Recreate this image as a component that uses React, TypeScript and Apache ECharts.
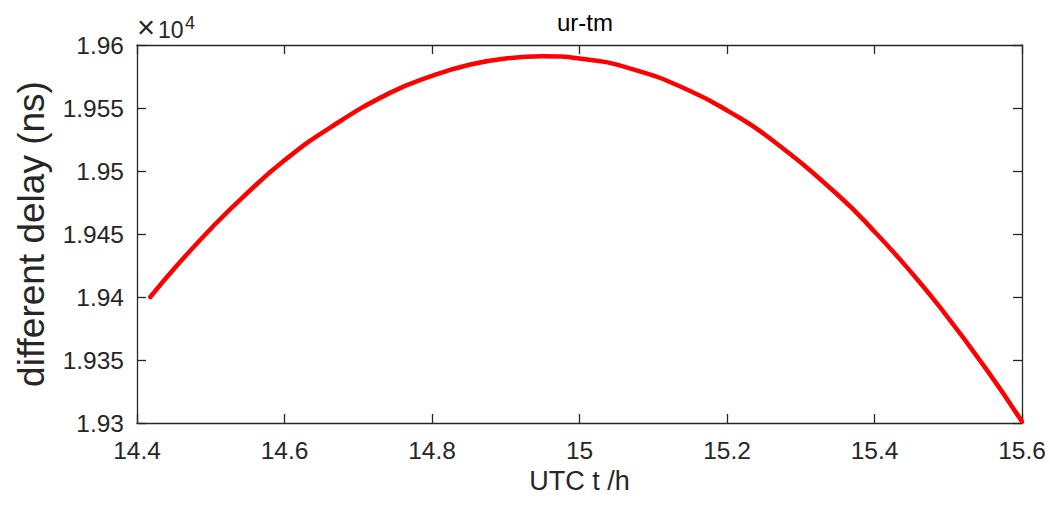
import React, { useEffect, useRef } from "react";
import * as echarts from "echarts";

const TITLE = "ur-tm";
const X_NAME = "UTC t /h";
const Y_NAME = "different delay (ns)";
const X_TICKS = [14.4, 14.6, 14.8, 15.0, 15.2, 15.4, 15.6];
const Y_TICKS = [19300, 19350, 19400, 19450, 19500, 19550, 19600];
const T_HOURS = [
  14.418, 14.458, 14.503, 14.544, 14.6, 14.662, 14.743, 14.8, 14.852, 14.9,
  14.95, 15.0, 15.075, 15.15, 15.204, 15.258, 15.353, 15.403, 15.444, 15.489,
  15.553, 15.6,
];
const DELAY_NS = [
  19400, 19427.5, 19456, 19479.5, 19508.5, 19534.5, 19562, 19575.5, 19584.5, 19589.3,
  19591, 19589.3, 19580.3, 19563.5, 19546.7, 19526, 19479.6, 19450, 19423.5, 19391.7,
  19341.6, 19301,
];

const FONT = "'Liberation Sans', Arial, Helvetica, sans-serif";
const INK = "#262626";

export default function App() {
  const ref = useRef<HTMLDivElement>(null);
  useEffect(() => {
    if (!ref.current) return;
    const chart = echarts.init(ref.current, undefined, { renderer: "svg" });
    const data = T_HOURS.map((t, i) => [t, DELAY_NS[i]]);
    const xMin = X_TICKS[0];
    const xMax = X_TICKS[X_TICKS.length - 1];
    const yMin = Y_TICKS[0];
    const yMax = Y_TICKS[Y_TICKS.length - 1];
    const axisLine = { show: true, lineStyle: { color: INK, width: 1.3 } };
    const tickIn = { show: true, inside: true, length: 9, lineStyle: { color: INK, width: 1.3 } };
    chart.setOption({
      animation: false,
      backgroundColor: "#ffffff",
      textStyle: { fontFamily: FONT },
      title: {
        text: TITLE,
        left: 580,
        top: 5,
        textAlign: "center",
        textStyle: { fontFamily: FONT, fontSize: 24, fontWeight: "normal", color: "#000" },
      },
      grid: { left: 137, top: 45, right: 28, bottom: 82, containLabel: false },
      xAxis: [
        {
          type: "value",
          min: xMin,
          max: xMax,
          interval: 0.2,
          name: X_NAME,
          nameLocation: "middle",
          nameGap: 44,
          nameTextStyle: { fontFamily: FONT, fontSize: 27, color: INK },
          axisLine,
          axisTick: tickIn,
          splitLine: { show: false },
          axisLabel: {
            fontFamily: FONT,
            fontSize: 24.5,
            color: INK,
            margin: 15,
            formatter: (v: number) => String(Number(v.toFixed(1))),
          },
        },
        {
          type: "value",
          position: "top",
          min: xMin,
          max: xMax,
          interval: 0.2,
          axisLine,
          axisTick: tickIn,
          splitLine: { show: false },
          axisLabel: { show: false },
        },
      ],
      yAxis: [
        {
          type: "value",
          min: yMin,
          max: yMax,
          interval: 50,
          name: Y_NAME,
          nameLocation: "middle",
          nameGap: 87,
          nameTextStyle: { fontFamily: FONT, fontSize: 37, color: INK },
          axisLine,
          axisTick: tickIn,
          splitLine: { show: false },
          axisLabel: {
            fontFamily: FONT,
            fontSize: 24.5,
            color: INK,
            margin: 13,
            formatter: (v: number) => String(Number((v / 1e4).toFixed(4))),
          },
        },
        {
          type: "value",
          position: "right",
          min: yMin,
          max: yMax,
          interval: 50,
          axisLine,
          axisTick: tickIn,
          splitLine: { show: false },
          axisLabel: { show: false },
        },
      ],
      graphic: [
        {
          type: "text",
          left: 137,
          top: 12,
          style: { text: "×", fontFamily: FONT, fontSize: 31, fill: INK },
        },
        {
          type: "text",
          left: 158,
          top: 18,
          style: { text: "10", fontFamily: FONT, fontSize: 23, fill: INK },
        },
        {
          type: "text",
          left: 185,
          top: 14,
          style: { text: "4", fontFamily: FONT, fontSize: 18, fill: INK },
        },
      ],
      series: [
        {
          type: "line",
          data,
          showSymbol: false,
          smooth: true,
          lineStyle: { color: "#ff0000", width: 4.5, cap: "round" },
          xAxisIndex: 0,
          yAxisIndex: 0,
        },
      ],
    });
    return () => chart.dispose();
  }, []);
  return (
    <div
      ref={ref}
      style={{ position: "fixed", left: 0, top: 0, width: 1050, height: 505, background: "#fff" }}
    />
  );
}
